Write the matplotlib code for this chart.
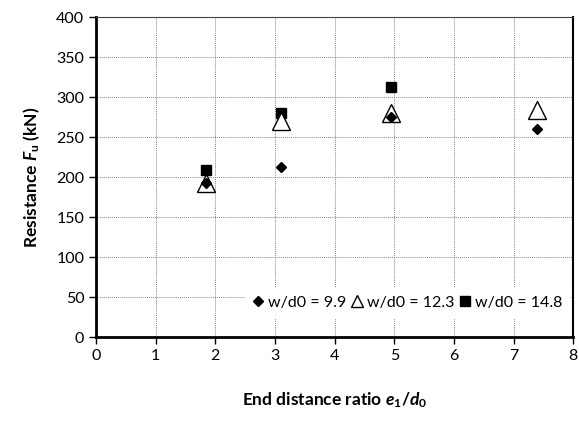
import matplotlib.pyplot as plt
from matplotlib.lines import Line2D

plt.rcParams['font.family'] = ['Lato', 'DejaVu Sans']
plt.rcParams['mathtext.fontset'] = 'custom'
plt.rcParams['mathtext.it'] = 'Lato:italic:bold'
plt.rcParams['mathtext.rm'] = 'Lato:bold'
plt.rcParams['mathtext.bf'] = 'Lato:bold'

# w/d0 = 9.9
x_99 = [1.85, 3.1, 4.95, 7.4]
y_99 = [193, 212, 275, 260]
# w/d0 = 12.3
x_123 = [1.85, 3.1, 4.95, 7.4]
y_123 = [192, 270, 280, 284]
# w/d0 = 14.8
x_148 = [1.85, 3.1, 4.95]
y_148 = [209, 280, 312]
labels = ['w/d0 = 9.9', 'w/d0 = 12.3', 'w/d0 = 14.8']

fig = plt.figure(figsize=(5.79, 4.21), dpi=100)
ax = fig.add_axes([0.166, 0.1995, 0.824, 0.76])

ax.plot(x_99, y_99, 'D', color='black', markersize=5.5, linestyle='none', zorder=3)
ax.plot(x_123, y_123, '^', markerfacecolor='white', markeredgecolor='black', markersize=13,
        markeredgewidth=1, linestyle='none', zorder=2)
ax.plot(x_148, y_148, 's', color='black', markersize=7, linestyle='none', zorder=1)

ax.set_xlim(0, 8)
ax.set_ylim(0, 400)
ax.set_xticks(range(0, 9))
ax.set_yticks(range(0, 401, 50))
ax.grid(True, linestyle=(0, (1, 1)), color='#888888', linewidth=0.7)
ax.set_axisbelow(True)
ax.tick_params(labelsize=11.5, direction='out', length=5, width=1)

ax.spines['left'].set_linewidth(2)
ax.spines['bottom'].set_linewidth(2)
ax.spines['right'].set_linewidth(1.5)
ax.spines['top'].set_linewidth(0.8)
ax.spines['top'].set_color('#444444')

ax.set_xlabel(r'End distance ratio $e_1/d_0$', fontsize=12.5, fontweight='bold', labelpad=20)
ax.set_ylabel(r'Resistance $F_\mathrm{u}$ (kN)', fontsize=12.5, fontweight='bold', labelpad=10)

handles = [
    Line2D([], [], marker='D', color='black', markersize=5, linestyle='none'),
    Line2D([], [], marker='^', markerfacecolor='white', markeredgecolor='black', markersize=9,
           markeredgewidth=1, linestyle='none'),
    Line2D([], [], marker='s', color='black', markersize=7, linestyle='none'),
]
ax.legend(handles, labels, loc='lower right', bbox_to_anchor=(1.0, 0.05), ncol=3, frameon=True,
          fancybox=False, edgecolor='white', framealpha=1, fontsize=11.5, handlelength=0.6,
          handletextpad=0.3, columnspacing=0.4, borderpad=0.5, borderaxespad=0.2)

plt.savefig('out.png', dpi=100)
